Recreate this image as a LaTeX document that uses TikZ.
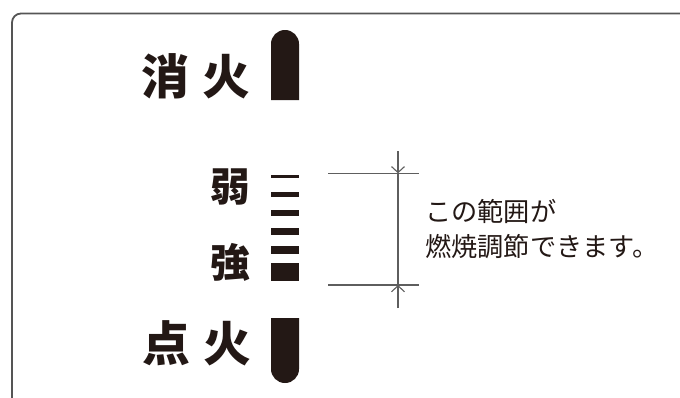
\documentclass[tikz,border=0pt]{standalone}
\usepackage{fontspec}
\newfontfamily\cjk{Noto Sans CJK JP}
\usetikzlibrary{arrows.meta}
\definecolor{ink}{HTML}{231815}
\definecolor{dimc}{HTML}{5E5E5E}
\definecolor{framec}{HTML}{555555}
\begin{document}
\begin{tikzpicture}[x=1bp,y=-1bp,
  biglabel/.style={font=\cjk\bfseries\fontsize{48}{48}\selectfont, text=ink, inner sep=0pt},
  midlabel/.style={font=\cjk\bfseries\fontsize{40}{40}\selectfont, text=ink, inner sep=0pt},
  notetext/.style={font=\cjk\fontsize{26.3}{35}\selectfont, text=ink, inner sep=0pt, align=left},
  barfill/.style={fill=ink, draw=none},
  dimline/.style={draw=dimc, line width=1.1bp},
  dimtip/.style={-{Straight Barb[length=6bp,width=13bp]}}
]
\useasboundingbox (0,0) rectangle (680,397);
% frame
\draw[framec, line width=1.8bp, rounded corners=9bp] (12,13.5) rectangle (700,420);

% top bar (消火)
\fill[ink, rounded corners=13.9bp] (271,100) -- (271,30) -- (299,30) [sharp corners] -- (299,100) -- cycle;
% bottom bar (点火)
\fill[ink, rounded corners=13.9bp] (271,318) -- (271,383) -- (299,383) [sharp corners] -- (299,318) -- cycle;

% scale bars
\fill[barfill] (271,174.8) rectangle (299,177.8);
\fill[barfill] (271,192.3) rectangle (299,197);
\fill[barfill] (271,210) rectangle (299,216);
\fill[barfill] (271,227.7) rectangle (299,235);
\fill[barfill] (271,245.7) rectangle (299,254.3);
\fill[barfill] (271,262.7) rectangle (299,280.7);

% labels
\node[biglabel] (off) at (196,76) {消\hspace{14bp}火};
\node[biglabel] (on) at (197,343) {点\hspace{14bp}火};
\node[midlabel] (weak) at (230,187) {弱};
\node[midlabel] (strong) at (230,262) {強};

% dimension
\coordinate (h1a) at (328,173.3);
\coordinate (h1b) at (419,173.3);
\coordinate (h2a) at (328,285);
\coordinate (h2b) at (419,285);
\coordinate (t1) at (398,151);
\coordinate (a1) at (398,173.3);
\coordinate (a2) at (398,285);
\coordinate (t2) at (398,308);
\draw[dimline] (h1a) -- (h1b);
\draw[dimline] (h2a) -- (h2b);
\draw[dimline] (a1) -- (a2);
\draw[dimline, dimtip] (t1) -- (a1);
\draw[dimline, dimtip] (t2) -- (a2);

\node[notetext, anchor=west] (note) at (425,229) {この範囲が\\燃焼調節できます。};
\end{tikzpicture}
\end{document}
